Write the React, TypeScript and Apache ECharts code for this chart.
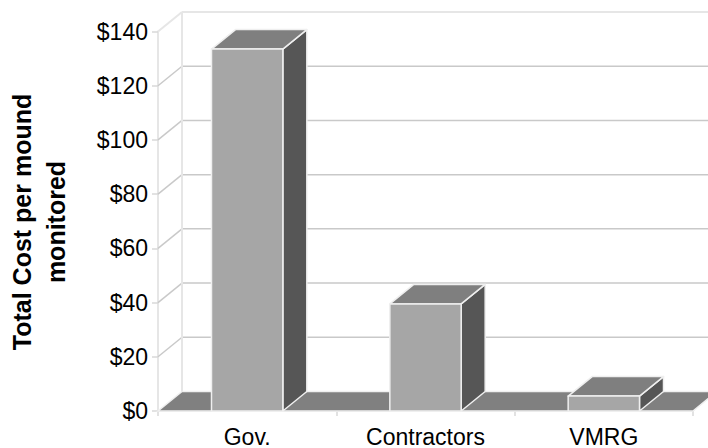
import React, { useEffect, useRef } from "react";
import * as echarts from "echarts";

// Cost per mound monitored, by who does the monitoring
const categories = ["Gov.", "Contractors", "VMRG"];
const costPerMound = [133.5, 39.5, 5.5];

// Value axis scale
const Y_MIN = 0;
const Y_MAX = 140;
const Y_STEP = 20;
const valueTicks = [0, 20, 40, 60, 80, 100, 120, 140];
const axisTitle = ["Total Cost per mound", "monitored"];

// Pseudo-3D depth offset (pixels toward the back wall)
const DEPTH_X = 24;
const DEPTH_Y = 19.5;
const BAR_RATIO = 0.4;

const FONT = '"Liberation Sans", Arial, Helvetica, sans-serif';
const FACE_FRONT = "#a6a6a6";
const FACE_TOP = "#7f7f7f";
const FACE_SIDE = "#565656";
const EDGE = "#efefef";
const FLOOR = "#808080";
const GRID_LINE = "#c9c9c9";
const WALL_EDGE = "#e6e6e6";

// Back wall, side wall and floor, one item per value tick
function renderFrame(params: any, api: any) {
  const cs = params.coordSys;
  const v = api.value(1);
  const y = api.coord([0, v])[1];
  const yZero = api.coord([0, Y_MIN])[1];
  const x0 = cs.x;
  const x1 = cs.x + cs.width;
  const bx0 = x0 + DEPTH_X;
  const by = y - DEPTH_Y;
  const isTop = v === Y_MAX;
  const children: any[] = [];

  if (v === Y_MIN) {
    children.push({
      type: "polygon",
      shape: {
        points: [
          [x0, y],
          [x1, y],
          [x1 + DEPTH_X, by],
          [bx0, by],
        ],
      },
      style: { fill: FLOOR, stroke: EDGE, lineWidth: 1.5 },
    });
  } else {
    children.push({
      type: "line",
      shape: { x1: bx0, y1: by, x2: x1 + DEPTH_X + 40, y2: by },
      style: { stroke: isTop ? WALL_EDGE : GRID_LINE, lineWidth: isTop ? 2 : 1.5 },
    });
    children.push({
      type: "line",
      shape: { x1: x0, y1: y, x2: bx0, y2: by },
      style: { stroke: isTop ? WALL_EDGE : GRID_LINE, lineWidth: isTop ? 2 : 1.5 },
    });
  }
  if (isTop) {
    children.push({
      type: "line",
      shape: { x1: bx0, y1: by, x2: bx0, y2: yZero - DEPTH_Y },
      style: { stroke: WALL_EDGE, lineWidth: 2 },
    });
  }
  return { type: "group", children };
}

// Box-shaped column: front face, top face and right side face
function renderBar(params: any, api: any) {
  const idx = api.value(0);
  const [xc, yTop] = api.coord([idx, api.value(1)]);
  const yBase = api.coord([idx, Y_MIN])[1];
  const w = api.size([1, 0])[0] * BAR_RATIO;
  const xl = xc - w / 2;
  const xr = xc + w / 2;
  const edge = { stroke: EDGE, lineWidth: 1.5, lineJoin: "round" };
  return {
    type: "group",
    children: [
      {
        type: "polygon",
        shape: {
          points: [
            [xr, yTop],
            [xr + DEPTH_X, yTop - DEPTH_Y],
            [xr + DEPTH_X, yBase - DEPTH_Y],
            [xr, yBase],
          ],
        },
        style: { fill: FACE_SIDE, ...edge },
      },
      {
        type: "polygon",
        shape: {
          points: [
            [xl, yTop],
            [xr, yTop],
            [xr + DEPTH_X, yTop - DEPTH_Y],
            [xl + DEPTH_X, yTop - DEPTH_Y],
          ],
        },
        style: { fill: FACE_TOP, ...edge },
      },
      {
        type: "rect",
        shape: { x: xl, y: yTop, width: w, height: yBase - yTop },
        style: { fill: FACE_FRONT, ...edge },
      },
    ],
  };
}

export default function App() {
  const ref = useRef<HTMLDivElement>(null);

  useEffect(() => {
    if (!ref.current) return;
    const chart = echarts.init(ref.current, undefined, { renderer: "svg" });
    chart.setOption({
      animation: false,
      backgroundColor: "#ffffff",
      textStyle: { fontFamily: FONT },
      grid: {
        left: 158,
        top: 31.5,
        width: 535,
        height: 379.5,
        outerBoundsMode: "none",
        containLabel: false,
      },
      xAxis: {
        type: "category",
        data: categories,
        boundaryGap: true,
        axisLine: { show: true, lineStyle: { color: "#d9d9d9", width: 1.5 } },
        axisTick: { show: true, length: 5, lineStyle: { color: "#d9d9d9", width: 1.5 } },
        axisLabel: { fontSize: 23, color: "#000", margin: 14, fontFamily: FONT },
        splitLine: { show: false },
      },
      yAxis: {
        type: "value",
        min: Y_MIN,
        max: Y_MAX,
        interval: Y_STEP,
        axisLine: { show: true, lineStyle: { color: WALL_EDGE, width: 2 } },
        axisTick: { show: true, length: 6, lineStyle: { color: "#d9d9d9", width: 1.5 } },
        axisLabel: {
          fontSize: 23,
          color: "#000",
          margin: 10,
          fontFamily: FONT,
          formatter: (v: number) => "$" + v,
        },
        splitLine: { show: false },
      },
      graphic: [
        {
          type: "text",
          x: 39,
          y: 222,
          rotation: Math.PI / 2,
          silent: true,
          style: {
            text: axisTitle.join("\n"),
            font: `bold 25px ${FONT}`,
            fill: "#000",
            align: "center",
            verticalAlign: "middle",
            lineHeight: 34,
          },
        },
      ],
      series: [
        {
          type: "custom",
          name: "frame",
          silent: true,
          z: 1,
          renderItem: renderFrame,
          data: valueTicks.map((v) => [0, v]),
        },
        {
          type: "custom",
          name: "Total Cost per mound monitored",
          z: 3,
          renderItem: renderBar,
          data: categories.map((_, i) => [i, costPerMound[i]]),
        },
      ],
    });
    return () => chart.dispose();
  }, []);

  return (
    <div
      ref={ref}
      style={{ position: "fixed", left: 0, top: 0, width: 708, height: 448 }}
    />
  );
}
